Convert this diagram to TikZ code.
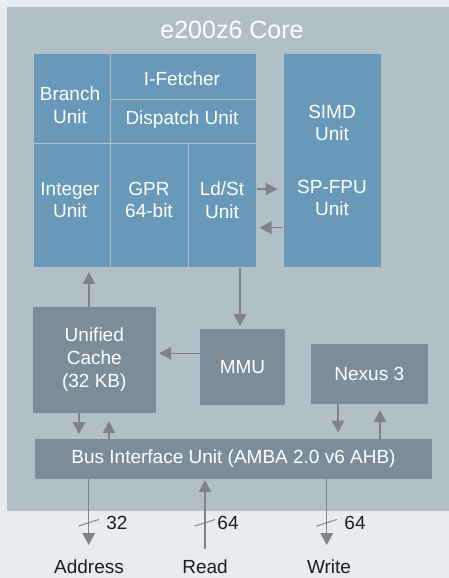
\documentclass[tikz,border=0pt]{standalone}
\usepackage{fontspec}
\setmainfont{Liberation Sans}
\usetikzlibrary{arrows.meta}
\definecolor{pagebg}{HTML}{E8ECEF}
\definecolor{corebg}{HTML}{B3BFC7}
\definecolor{unitblue}{HTML}{6899B9}
\definecolor{unitgray}{HTML}{7C8D99}
\definecolor{arrowgray}{HTML}{7F8286}
\definecolor{labeltext}{HTML}{1E1E1E}

\begin{document}
\begin{tikzpicture}[x=1pt,y=-1pt,>={Triangle[length=12pt,width=12.5pt]},
      cell/.style={draw=corebg,line width=1pt,fill=unitblue,inner sep=0pt},
      block/.style={fill=unitgray,inner sep=0pt,text=white,align=center,
        font=\fontsize{19}{23}\selectfont},
      txt/.style={text=white,align=center,inner sep=0pt,font=\fontsize{19}{22.5}\selectfont},
      outtxt/.style={text=labeltext,inner sep=0pt,font=\fontsize{19}{22}\selectfont},
      wire/.style={->,draw=arrowgray,line width=1.3pt},
      tick/.style={draw=arrowgray,line width=1pt}]
    \useasboundingbox (0,0) rectangle (449,578);
    \fill[pagebg] (0,0) rectangle (449,578);
    \fill[corebg] (7,7) rectangle (449,510.7);
    \node[txt,font=\fontsize{25}{30}\selectfont] (core-title) at (232,30) {e200z6 Core};

    \node[cell,minimum width=77pt,minimum height=89pt] (branch) at (71.5,98.5) {};
    \node[cell,minimum width=146pt,minimum height=45pt] (ifetch) at (183,76.5) {};
    \node[cell,minimum width=146pt,minimum height=44pt] (dispatch) at (183,121) {};
    \node[cell,minimum width=77pt,minimum height=124pt] (integer) at (71.5,205) {};
    \node[cell,minimum width=78pt,minimum height=124pt] (gpr) at (149,205) {};
    \node[cell,minimum width=68pt,minimum height=124pt] (ldst) at (222,205) {};
    \node[cell,minimum width=98pt,minimum height=213pt] (simd) at (332,160.5) {};
    \node[txt] (branch-t) at (70,105) {Branch\\Unit};
    \node[txt] (ifetch-t) at (182,79) {I-Fetcher};
    \node[txt] (dispatch-t) at (182,120) {Dispatch Unit};
    \node[txt] (integer-t) at (70,200) {Integer\\Unit};
    \node[txt] (gpr-t) at (149,200) {GPR\\64-bit};
    \node[txt] (ldst-t) at (222,200) {Ld/St\\Unit};
    \node[txt] (simd-t) at (332,123) {SIMD\\Unit};
    \node[txt] (fpu-t) at (332,198) {SP-FPU\\Unit};

    \node[block,minimum width=122.7pt,minimum height=106pt] (cache) at (94.3,359.7) {Unified\\Cache\\(32 KB)};
    \node[block,minimum width=85pt,minimum height=75.7pt] (mmu) at (242.5,367) {MMU};
    \node[block,minimum width=116.7pt,minimum height=59.7pt] (nexus) at (369.3,373.8) {Nexus 3};
    \node[block,minimum width=397pt,minimum height=40pt] (bus) at (233.5,459) {Bus Interface Unit (AMBA 2.0 v6 AHB)};

    \draw[wire,shorten >=5pt] (ldst.east |- 0,189) -- (simd.west |- 0,189);
    \draw[wire,shorten >=3pt] (simd.west |- 0,227.7) -- (ldst.east |- 0,227.7);
    \draw[wire,shorten >=4.7pt] (cache.north -| 89,0) -- (integer.south -| 89,0);
    \draw[wire,shorten >=3pt] (ldst.south -| 240,0) -- (mmu.north -| 240,0);
    \draw[wire,shorten >=3.3pt] (mmu.west |- 0,353.3) -- (cache.east |- 0,353.3);
    \draw[wire,shorten >=4.7pt] (cache.south -| 79,0) -- (bus.north -| 79,0);
    \draw[wire,shorten >=8.3pt] (bus.north -| 109,0) -- (cache.south -| 109,0);
    \draw[wire,shorten >=6.3pt] (nexus.south -| 338,0) -- (bus.north -| 338,0);
    \draw[wire,shorten >=6.3pt] (bus.north -| 380,0) -- (nexus.south -| 380,0);

    \coordinate (addr-end) at (88.7,545);
    \coordinate (read-start) at (205,549);
    \coordinate (write-end) at (326.7,545);
    \draw[wire] (bus.south -| addr-end) -- (addr-end);
    \draw[wire,shorten >=1pt] (read-start) -- (bus.south -| read-start);
    \draw[wire] (bus.south -| write-end) -- (write-end);
    \draw[tick] (78.7,526) -- (98.7,519.5);
    \draw[tick] (195,526) -- (215,519.5);
    \draw[tick] (316.7,526) -- (336.7,519.5);
    \node[outtxt] (addr-w) at (117,523) {32};
    \node[outtxt] (read-w) at (228,523) {64};
    \node[outtxt] (write-w) at (355,523) {64};
    \node[outtxt] (addr) at (89,566.7) {Address};
    \node[outtxt] (read) at (205,566.7) {Read};
    \node[outtxt] (write) at (329,566.7) {Write};
  \end{tikzpicture}
\end{document}
